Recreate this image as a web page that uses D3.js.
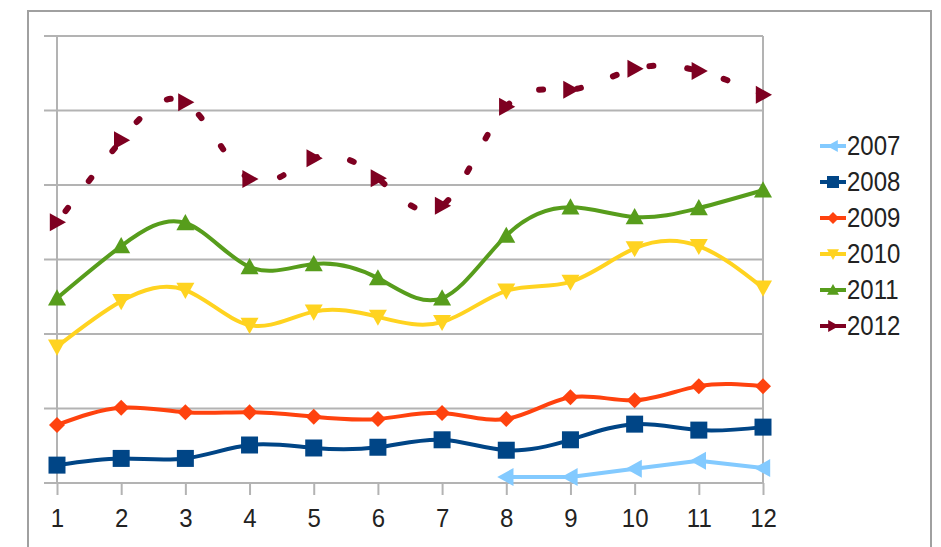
<!DOCTYPE html>
<html><head><meta charset="utf-8">
<script src="https://cdn.jsdelivr.net/npm/d3@7"></script>
<style>html,body{margin:0;padding:0;background:#fff;overflow:hidden}text{font-family:"Liberation Sans",Arial,sans-serif;fill:#222}</style>
</head><body><svg id="c" width="941" height="547"></svg>
<script>
const months = [1,2,3,4,5,6,7,8,9,10,11,12];
const yTicks = [0,10,20,30,40,50,60];
const seriesNames = ["2007","2008","2009","2010","2011","2012"];
const s2007 = [null,null,null,null,null,null,null,0.8,0.8,1.9,3.0,2.0];
const s2008 = [2.4,3.3,3.3,5.1,4.7,4.8,5.8,4.4,5.8,7.9,7.1,7.5];
const s2009 = [7.8,10.1,9.5,9.5,8.9,8.6,9.4,8.6,11.5,11.1,13.0,13.0];
const s2010 = [18.3,24.4,25.9,21.2,23.0,22.3,21.6,25.8,27.0,31.5,31.8,26.2];
const s2011 = [24.8,31.8,34.9,29.0,29.4,27.5,24.8,33.2,37.0,35.7,36.9,39.3];
const s2012 = [35.0,46.0,51.1,40.8,43.6,40.9,37.2,50.5,52.8,55.6,55.3,52.1];
const colors = ["#83caff","#004586","#ff420e","#ffd320","#579d1c","#7e0021"];
const markers = ["left","square","diamond","down","up","right"];

const svg = d3.select("#c");
// outer frame
svg.append("rect").attr("x",28).attr("y",11).attr("width",903).attr("height",560)
  .attr("fill","none").attr("stroke","#a0a0a0").attr("stroke-width",2);

const x = d3.scaleLinear().domain([1,12]).range([57,763]);
const y = d3.scaleLinear().domain([0,60]).range([483,36]);

// gridlines
svg.append("g").selectAll("line").data(yTicks).join("line")
  .attr("x1",44).attr("x2",x(12)).attr("y1",d=>y(d)).attr("y2",d=>y(d))
  .attr("stroke","#b3b3b3").attr("stroke-width",2);
// left axis & right border
svg.append("line").attr("x1",x(1)).attr("x2",x(1)).attr("y1",y(60)).attr("y2",y(0)).attr("stroke","#b3b3b3").attr("stroke-width",2);
svg.append("line").attr("x1",x(12)).attr("x2",x(12)).attr("y1",y(60)).attr("y2",y(0)).attr("stroke","#b3b3b3").attr("stroke-width",2);

// x axis
const xAxis = d3.axisBottom(x).tickValues(months).tickSize(12).tickPadding(14).tickFormat(d3.format("d"));
const gx = svg.append("g").attr("transform",`translate(0,${y(0)})`).call(xAxis);
gx.select(".domain").remove();
gx.selectAll(".tick line").attr("stroke","#b3b3b3").attr("stroke-width",2);
gx.selectAll(".tick text").attr("font-size",24).attr("fill","#222")
  .attr("font-family","Liberation Sans, Arial, sans-serif")
  .attr("transform","scale(1,1.1)").attr("dy","0.6em");

function markerPath(type, s){
  const h=s/2;
  switch(type){
    case "square": return `M${-h},${-h}H${h}V${h}H${-h}Z`;
    case "diamond": return `M0,${-h}L${h},0L0,${h}L${-h},0Z`;
    case "up": return `M0,${-h}L${h},${h*0.8}L${-h},${h*0.8}Z`;
    case "down": return `M0,${h}L${h},${-h*0.8}L${-h},${-h*0.8}Z`;
    case "left": return `M${-h},0L${h*0.8},${-h}L${h*0.8},${h}Z`;
    case "right": return `M${h},0L${-h*0.8},${-h}L${-h*0.8},${h}Z`;
  }
}
const mSize = {square:17,diamond:16,up:18,down:18,left:18,right:18};

const all = [s2007,s2008,s2009,s2010,s2011,s2012];
all.forEach((vals,i)=>{
  const pts = months.map((m,j)=>[m,vals[j]]).filter(p=>p[1]!==null);
  const line = d3.line().x(d=>x(d[0])).y(d=>y(d[1])).curve(i===0?d3.curveLinear:d3.curveNatural);
  const p = svg.append("path").attr("d",line(pts)).attr("fill","none")
    .attr("stroke",colors[i]).attr("stroke-width",i===5?6:4).attr("stroke-linejoin","round");
  if(i===5) p.attr("stroke-dasharray","4,34").attr("stroke-dashoffset",-14).attr("stroke-linecap","round");
  svg.append("g").selectAll("path").data(pts).join("path")
    .attr("transform",d=>`translate(${x(d[0])},${y(d[1])})`)
    .attr("d",markerPath(markers[i],mSize[markers[i]])).attr("fill",colors[i]);
});

// legend
const lg = svg.append("g");
seriesNames.forEach((n,i)=>{
  const cy = 146 + i*36;
  lg.append("line").attr("x1",820).attr("x2",846).attr("y1",cy).attr("y2",cy)
    .attr("stroke",colors[i]).attr("stroke-width",4);
  lg.append("path").attr("transform",`translate(833,${cy})`).attr("d",markerPath(markers[i],12)).attr("fill",colors[i]);
  lg.append("text").attr("transform",`translate(847,${cy+9}) scale(1,1.12)`).attr("font-size",24).text(n);
});
</script></body></html>
